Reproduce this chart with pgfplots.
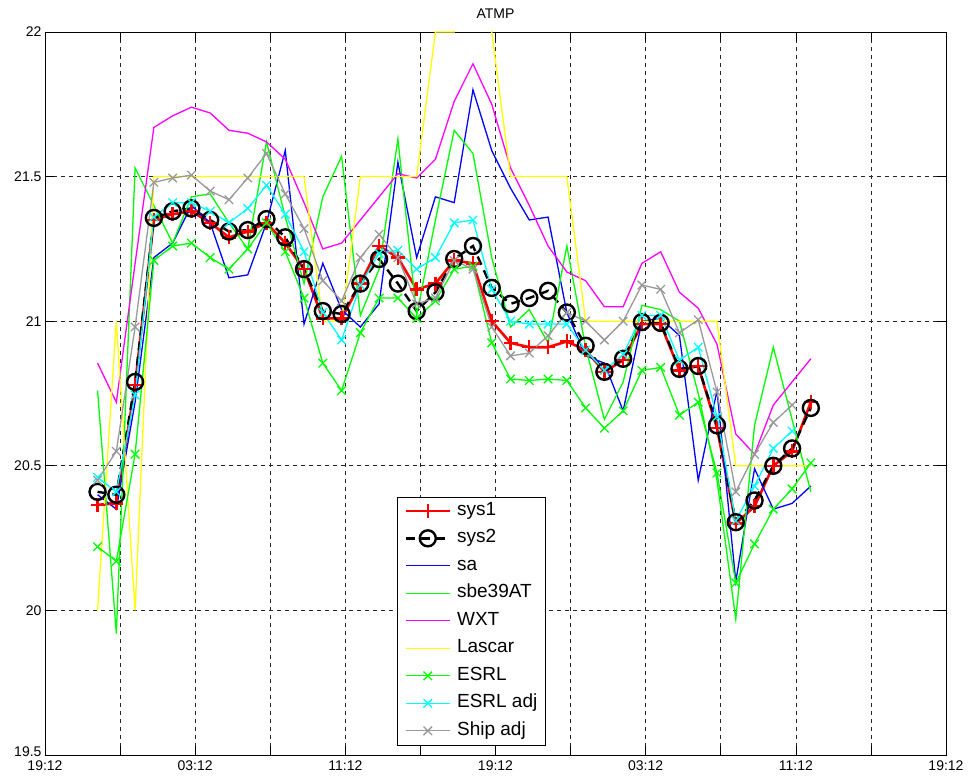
\documentclass[border=0pt]{standalone}
\usepackage{fontspec}
\setmainfont{Liberation Sans}
\usepackage{pgfplots}
\usepackage{pgfplotstable}
\pgfplotsset{compat=1.18}
\definecolor{shipgray}{rgb}{0.6,0.6,0.6}
\definecolor{mblue}{rgb}{0,0,1}
\definecolor{mgreen}{rgb}{0,1,0}
\definecolor{mmagenta}{rgb}{1,0,1}
\definecolor{myellow}{rgb}{1,1,0}
\definecolor{mcyan}{rgb}{0,1,1}
\definecolor{mred}{rgb}{1,0,0}

\pgfplotstableread{
t    sA     sB     sa     sbe    wxt    las   esrl   esrla  ship
2.8  20.365 20.41  20.40  20.76  20.855 20.0  20.22  20.46  20.45
3.8  20.37  20.40  20.35  19.92  20.72  21.0  20.17  20.41  20.55
4.8  20.78  20.79  20.72  21.53  21.20  20.0  20.54  20.745 20.98
5.8  21.35  21.357 21.22  21.40  21.67  21.5  21.21  21.36  21.48
6.8  21.37  21.38  21.27  21.27  21.71  21.5  21.26  21.41  21.495
7.8  21.38  21.39  21.40  21.43  21.74  21.5  21.27  21.41  21.505
8.8  21.34  21.35  21.34  21.44  21.72  21.5  21.22  21.38  21.45
9.8  21.29  21.31  21.15  21.34  21.66  21.5  21.18  21.34  21.42
10.8 21.31  21.315 21.16  21.25  21.65  21.5  21.25  21.39  21.495
11.8 21.34  21.353 21.34  21.62  21.62  21.5  21.34  21.47  21.58
12.8 21.27  21.29  21.59  21.36  21.56  21.5  21.24  21.37  21.44
13.8 21.18  21.18  20.99  21.13  21.41  21.5  21.08  21.24  21.32
14.8 21.01  21.035 21.20  21.43  21.25  21.0  20.855 21.03  21.14
15.8 21.01  21.025 21.04  21.57  21.27  21.0  20.76  20.935 21.07
16.8 21.13  21.13  20.98  21.02  21.35  21.5  20.96  21.125 21.22
17.8 21.26  21.215 21.06  21.18  21.43  21.5  21.08  21.235 21.30
18.8 21.22  21.13  21.55  21.63  21.51  21.5  21.08  21.245 21.22
19.8 21.11  21.035 21.22  21.02  21.495 21.5  21.01  21.18  21.06
20.8 21.13  21.10  21.43  21.35  21.56  22.0  21.07  21.22  21.08
21.8 21.21  21.215 21.41  21.66  21.76  22.0  21.18  21.34  21.21
22.8 21.20  21.26  21.80  21.58  21.89  22.5  21.19  21.35  21.18
23.8 21.00  21.115 21.59  21.22  21.75  22.0  20.925 21.11  20.98
24.8 20.925 21.06  21.46  20.98  21.53  21.5  20.80  21.00  20.88
25.8 20.91  21.08  21.35  21.04  21.40  21.5  20.795 20.99  20.89
26.8 20.91  21.105 21.36  20.925 21.26  21.5  20.80  20.99  20.95
27.8 20.93  21.03  21.03  21.26  21.17  21.5  20.795 20.99  21.03
28.8 20.90  20.915 20.88  20.91  21.14  21.0  20.70  20.90  21.00
29.8 20.825 20.825 20.855 20.66  21.05  21.0  20.63  20.83  20.935
30.8 20.865 20.87  20.69  20.79  21.05  21.0  20.69  20.885 21.00
31.8 20.99  20.997 21.00  21.055 21.20  21.0  20.83  21.02  21.125
32.8 20.99  20.994 21.01  21.04  21.24  21.0  20.84  21.02  21.11
33.8 20.83  20.835 20.95  21.00  21.10  21.0  20.675 20.865 20.96
34.8 20.845 20.845 20.45  20.75  21.045 21.0  20.72  20.91  21.005
35.8 20.63  20.64  20.76  20.45  20.92  21.0  20.475 20.67  20.755
36.8 20.30  20.305 20.10  19.97  20.61  20.5  20.095 20.31  20.41
37.8 20.36  20.38  20.49  20.64  20.54  20.5  20.23  20.43  20.54
38.8 20.50  20.50  20.35  20.91  20.71  20.5  20.35  20.56  20.65
39.8 20.55  20.56  20.37  20.66  20.79  20.5  20.42  20.62  20.71
40.8 20.72  20.70  20.43  20.41  20.87  20.5  20.51  nan    nan
}\data

\begin{document}
\begin{tikzpicture}
\useasboundingbox (-45pt,-23pt) rectangle (926pt,755pt);
\begin{axis}[
  scale only axis, width=901pt, height=723pt,
  xmin=0, xmax=48, ymin=19.5, ymax=22,
  xtick={0,4,...,48},
  xticklabels={19:12,,03:12,,11:12,,19:12,,03:12,,11:12,,19:12},
  ytick={19.5,20,20.5,21,21.5,22},
  yticklabels={\raisebox{6pt}{19.5},20,20.5,21,21.5,22},
  /pgf/number format/assume math mode=true,
  tick label style={font=\fontsize{14}{16}\selectfont},
  xticklabel style={yshift=-2pt},
  grid=major,
  major grid style={black!85, dash pattern=on 4pt off 4pt, line width=0.6pt},
  tick align=inside, major tick length=9pt,
  tick style={black, line width=0.6pt},
  axis line style={black, line width=0.8pt},
  title={ATMP},
  title style={font=\fontsize{14}{16}\selectfont, yshift=4pt},
  legend cell align=left,
  legend image code/.code={\draw[mark repeat=2,mark phase=2,#1] plot coordinates {(0pt,0pt) (22pt,0pt) (44pt,0pt)};},
  legend style={at={(0.391,0.0138)}, anchor=south west,
    font=\fontsize{19}{21}\selectfont, inner xsep=7pt, inner ysep=4.5pt,
    row sep=8.5pt, column sep=5pt,
    nodes={inner sep=1pt, text height=13pt, text depth=4pt}},
]
\addplot[color=mred, draw=mred, line width=2.6pt, mark=+, mark size=7pt, mark options={solid, line width=2.4pt}] table[x=t, y=sA] {\data};
\addlegendentry{sys1}
\addplot[color=black, draw=black, line width=2.4pt, dash pattern=on 9pt off 6pt, mark=o, mark size=8pt, mark options={solid, line width=2.4pt}] table[x=t, y=sB] {\data};
\addlegendentry{sys2}
\addplot[color=mblue, draw=mblue, line width=1.3pt] table[x=t, y=sa] {\data};
\addlegendentry{sa}
\addplot[color=mgreen, draw=mgreen, line width=1.3pt] table[x=t, y=sbe] {\data};
\addlegendentry{sbe39AT}
\addplot[color=mmagenta, draw=mmagenta, line width=1.3pt] table[x=t, y=wxt] {\data};
\addlegendentry{WXT}
\addplot[color=myellow, draw=myellow, line width=1.3pt] table[x=t, y=las] {\data};
\addlegendentry{Lascar}
\addplot[color=mgreen, draw=mgreen, line width=1.3pt, mark=x, mark size=6pt, mark options={solid, line width=1.3pt}] table[x=t, y=esrl] {\data};
\addlegendentry{ESRL}
\addplot[color=mcyan, draw=mcyan, line width=1.3pt, mark=x, mark size=6pt, mark options={solid, line width=1.3pt}] table[x=t, y=esrla] {\data};
\addlegendentry{ESRL adj}
\addplot[color=shipgray, draw=shipgray, line width=1.3pt, mark=x, mark size=6pt, mark options={solid, line width=1.3pt}] table[x=t, y=ship] {\data};
\addlegendentry{Ship adj}
\end{axis}
\end{tikzpicture}
\end{document}
